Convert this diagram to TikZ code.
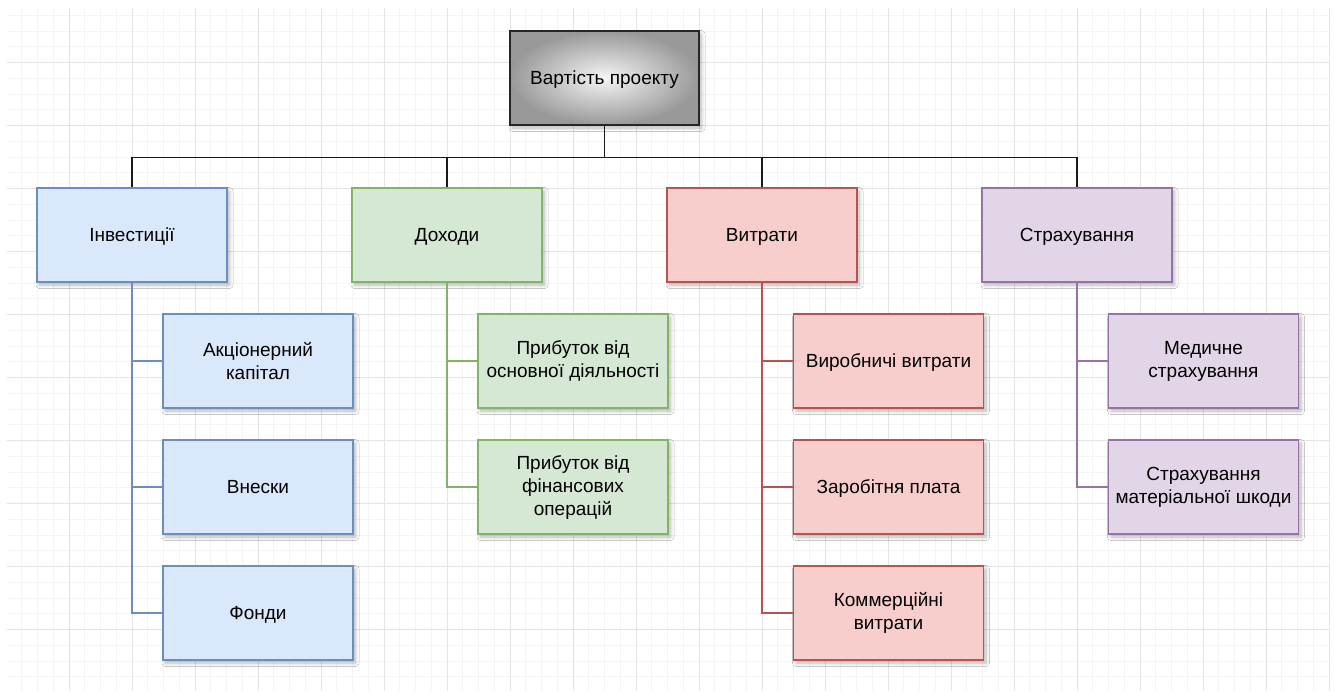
\documentclass[tikz,border=0pt]{standalone}
\usepackage{fontspec}
\setmainfont{Liberation Sans}
\usetikzlibrary{shadows.blur}
\definecolor{gridminor}{HTML}{F4F4F4}
\definecolor{gridmajor}{HTML}{E4E4E4}
\definecolor{bluefill}{HTML}{DAE8FC}\definecolor{bluedraw}{HTML}{6C8EBF}
\definecolor{greenfill}{HTML}{D5E8D4}\definecolor{greendraw}{HTML}{82B366}
\definecolor{redfill}{HTML}{F8CECC}\definecolor{reddraw}{HTML}{B85450}
\definecolor{purplefill}{HTML}{E1D5E7}\definecolor{purpledraw}{HTML}{9673A6}
\tikzset{
  box/.style={rectangle, minimum width=190pt, minimum height=94pt, inner sep=0pt,
    align=center, font=\fontsize{19}{23}\selectfont, line width=1.1pt,
    blur shadow={shadow xshift=2.5pt, shadow yshift=-3pt, shadow blur radius=3.5pt,
      shadow blur steps=8, shadow opacity=28}},
  oneline/.style={text depth=0pt},
  topbox/.style={box, draw=black!85, minimum width=189pt, inner color=white!96!black, outer color=black!40},
  bluebox/.style={box, draw=bluedraw, fill=bluefill},
  greenbox/.style={box, draw=greendraw, fill=greenfill},
  redbox/.style={box, draw=reddraw, fill=redfill},
  purplebox/.style={box, draw=purpledraw, fill=purplefill},
  conn/.style={line width=1.1pt},
}
\begin{document}
\begin{tikzpicture}[x=1pt,y=-1pt]
\useasboundingbox (0,0) rectangle (1336,691);
\fill[white] (0,0) rectangle (1336,691);
% background grid
\begin{scope}
\clip (7,8) rectangle (1330,690);
\foreach \i in {0,...,84} \draw[gridminor, line width=0.8pt] ({6+\i*15.75},0) -- ++(0,691);
\foreach \i in {0,...,44} \draw[gridminor, line width=0.8pt] (0,{-0.5+\i*15.75}) -- ++(1336,0);
\foreach \i in {0,...,21} \draw[gridmajor, line width=0.9pt] ({6+\i*63},0) -- ++(0,691);
\foreach \i in {0,...,11} \draw[gridmajor, line width=0.9pt] (0,{-0.5+\i*63}) -- ++(1336,0);
\end{scope}

% root
\node[topbox, oneline] (root) at (604.5,78) {Вартість проекту};

% first level
\node[bluebox, oneline]   (inv) at (132,235)  {Інвестиції};
\node[greenbox, oneline]  (inc) at (447,235)  {Доходи};
\node[redbox, oneline]    (exp) at (762,235)  {Витрати};
\node[purplebox, oneline] (ins) at (1077,235) {Страхування};

% second level
\node[bluebox] (inv1) at (258,361) {Акціонерний\\капітал};
\node[bluebox, oneline] (inv2) at (258,487) {Внески};
\node[bluebox, oneline] (inv3) at (258,613) {Фонди};

\node[greenbox] (inc1) at (573,361) {Прибуток від\\основної діяльності};
\node[greenbox] (inc2) at (573,487) {Прибуток від\\фінансових\\операцій};

\node[redbox, oneline] (exp1) at (888.5,361) {Виробничі витрати};
\node[redbox, oneline] (exp2) at (888.5,487) {Заробітня плата};
\node[redbox] (exp3) at (888.5,613) {Коммерційні\\витрати};

\node[purplebox] (ins1) at (1203.5,361) {Медичне\\страхування};
\node[purplebox] (ins2) at (1203.5,487) {Страхування\\матеріальної шкоди};

% connectors
\foreach \n in {inv,inc,exp,ins}
  \draw[conn, black!90] (root.south) -- ++(0,32) -| (\n.north);
\foreach \n in {inv1,inv2,inv3} \draw[conn, bluedraw] (inv.south) |- (\n.west);
\foreach \n in {inc1,inc2} \draw[conn, greendraw] (inc.south) |- (\n.west);
\foreach \n in {exp1,exp2,exp3} \draw[conn, reddraw] (exp.south) |- (\n.west);
\foreach \n in {ins1,ins2} \draw[conn, purpledraw] (ins.south) |- (\n.west);
\end{tikzpicture}
\end{document}
